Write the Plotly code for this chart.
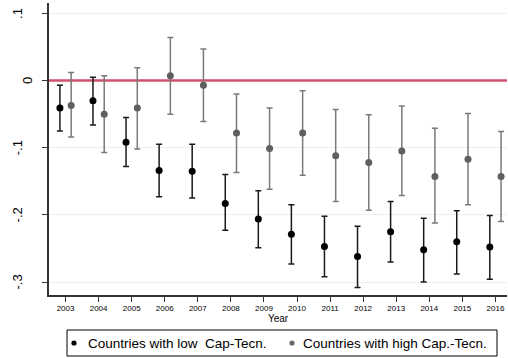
import plotly.graph_objects as go

years = list(range(2003, 2017))
low_est = [-0.041, -0.030, -0.092, -0.134, -0.135, -0.183, -0.206, -0.229, -0.247, -0.262, -0.225, -0.252, -0.240, -0.248]
low_hi = [-0.007, 0.005, -0.055, -0.095, -0.095, -0.140, -0.164, -0.185, -0.202, -0.217, -0.180, -0.205, -0.194, -0.201]
low_lo = [-0.075, -0.066, -0.128, -0.173, -0.175, -0.223, -0.249, -0.273, -0.292, -0.308, -0.270, -0.300, -0.288, -0.296]
high_est = [-0.037, -0.050, -0.041, 0.007, -0.007, -0.078, -0.101, -0.078, -0.112, -0.122, -0.105, -0.143, -0.117, -0.143]
high_hi = [0.012, 0.007, 0.019, 0.064, 0.047, -0.020, -0.041, -0.015, -0.043, -0.051, -0.038, -0.071, -0.049, -0.076]
high_lo = [-0.084, -0.107, -0.102, -0.050, -0.061, -0.137, -0.162, -0.141, -0.180, -0.193, -0.171, -0.212, -0.185, -0.210]
y_ticks = [0.1, 0, -0.1, -0.2, -0.3]
y_tick_labels = [".1", "0", "-.1", "-.2", "-.3"]
series_names = ["Countries with low\u00a0\u00a0Cap-Tecn.", "Countries with high Cap.-Tecn."]
offset = 0.17
x_range = [2002.5, 2016.35]

# plot-area geometry in pixels (for paper <-> pixel conversions)
W, H = 508, 358
L, R, T, B = 49, 1, 3, 63
PW, PH = W - L - R, H - T - B


def px_x(px):
    return (px - L) / PW


def px_y(py):
    return (H - B - py) / PH


fig = go.Figure()
# reference line at zero (drawn first, under the markers)
fig.add_trace(go.Scatter(
    x=x_range, y=[0, 0], mode="lines", showlegend=False, hoverinfo="skip",
    line=dict(color="#d0506e", width=2.5),
))
fig.add_trace(go.Scatter(
    x=[y - offset for y in years], y=low_est, mode="markers", showlegend=False,
    name=series_names[0],
    marker=dict(color="black", size=7),
    error_y=dict(type="data", symmetric=False,
                 array=[h - e for h, e in zip(low_hi, low_est)],
                 arrayminus=[e - l for e, l in zip(low_est, low_lo)],
                 color="#1a1a1a", thickness=1.5, width=3),
))
fig.add_trace(go.Scatter(
    x=[y + offset for y in years], y=high_est, mode="markers", showlegend=False,
    name=series_names[1],
    marker=dict(color="#5f5f5f", size=7),
    error_y=dict(type="data", symmetric=False,
                 array=[h - e for h, e in zip(high_hi, high_est)],
                 arrayminus=[e - l for e, l in zip(high_est, high_lo)],
                 color="#7a7a7a", thickness=1.5, width=3),
))

shapes = [
    # legend box
    dict(type="rect", xref="paper", yref="paper", x0=px_x(67), x1=px_x(497),
         y0=px_y(356), y1=px_y(330), line=dict(color="black", width=1),
         fillcolor="white"),
]
annotations = []
legend_dot_colors = ["black", "#6a6a6a"]
legend_dot_x = [74, 292]
legend_text_x = [86, 301]
for name, col, dx, tx in zip(series_names, legend_dot_colors, legend_dot_x, legend_text_x):
    shapes.append(dict(type="circle", xref="paper", yref="paper",
                       xsizemode="pixel", ysizemode="pixel",
                       xanchor=px_x(dx), yanchor=px_y(343),
                       x0=-2.6, x1=2.6, y0=-2.6, y1=2.6,
                       fillcolor=col, line=dict(width=0)))
    annotations.append(dict(text=name, xref="paper", yref="paper",
                            x=px_x(tx), y=px_y(343), xanchor="left", yanchor="middle",
                            showarrow=False, font=dict(size=13.5, color="black")))

# rotated y tick labels
for v, lab in zip(y_ticks, y_tick_labels):
    baseline = 37 if lab == "0" else 27
    annotations.append(dict(text=lab, xref="paper", yref="y", x=0, y=v,
                            xanchor="right", yanchor="middle", textangle=-90,
                            xshift=-(L - baseline), showarrow=False,
                            font=dict(size=13, color="black")))

fig.update_layout(
    width=W, height=H,
    margin=dict(l=L, r=R, t=T, b=B),
    paper_bgcolor="white", plot_bgcolor="white",
    font=dict(family="Liberation Sans, Arial, sans-serif", color="black"),
    showlegend=False,
    shapes=shapes,
    annotations=annotations,
    xaxis=dict(range=x_range, tickmode="array", tickvals=years,
               ticktext=[str(y) for y in years], tickfont=dict(size=8),
               ticks="outside", ticklen=5, tickcolor="#333", showline=True,
               linecolor="#333", linewidth=1.5, showgrid=False, zeroline=False,
               title=dict(text="Year", font=dict(size=10), standoff=1)),
    yaxis=dict(range=[-0.3193, 0.1155], tickmode="array", tickvals=y_ticks,
               showticklabels=False,
               ticks="outside", ticklen=5, tickcolor="#333", showline=True,
               linecolor="#333", linewidth=1.5, showgrid=True,
               gridcolor="#e8f0f2", gridwidth=1, zeroline=False),
)

fig.write_html("out.html")
